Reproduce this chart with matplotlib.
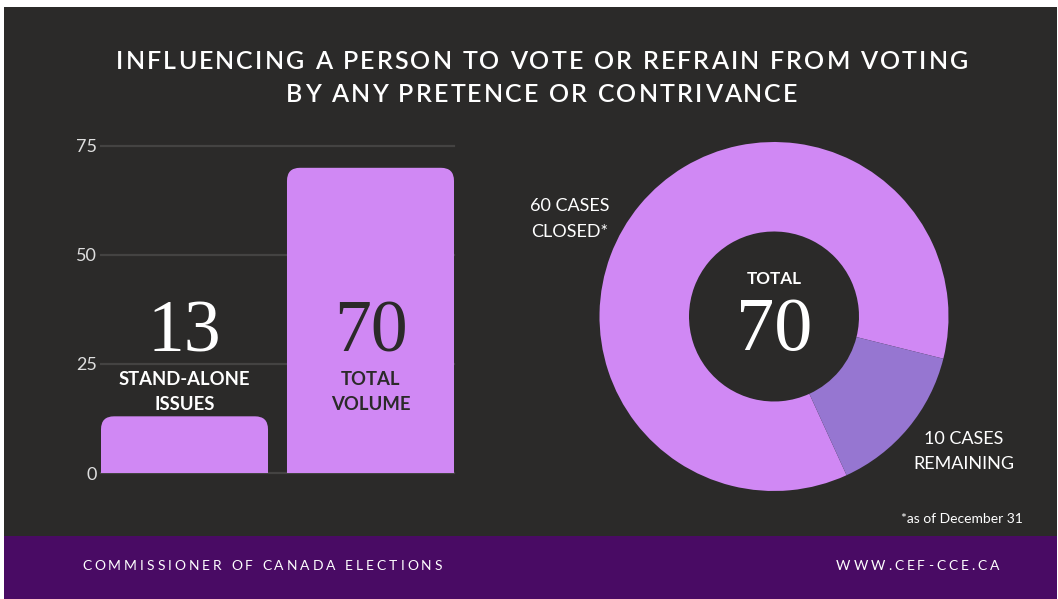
import matplotlib
matplotlib.use("Agg")
import matplotlib.pyplot as plt
from matplotlib.patches import FancyBboxPatch, Rectangle
from matplotlib.font_manager import FontProperties

# ---------------- data ----------------
title_lines = ["INFLUENCING A PERSON TO VOTE OR REFRAIN FROM VOTING",
               "BY ANY PRETENCE OR CONTRIVANCE"]
bar_categories = ["STAND-ALONE\nISSUES", "TOTAL\nVOLUME"]
bar_values = [13, 70]
y_ticks = [0, 25, 50, 75]
donut_labels = ["60 CASES\nCLOSED*", "10 CASES\nREMAINING"]
donut_values = [60, 10]
donut_total = 70
center_label = "TOTAL"
footnote = "*as of December 31"
footer_left = "COMMISSIONER OF CANADA ELECTIONS"
footer_right = "WWW.CEF-CCE.CA"

# ---------------- style ----------------
W, H, DPI = 1058, 599, 100
BG = "#2b2a29"
FOOT = "#490b64"
BAR = "#d088f4"
REMAIN = "#9676d1"
GRID = "#444342"
TICK = "#dedede"
SANS = "Lato"
SERIF = "Liberation Serif"

fig = plt.figure(figsize=(W / DPI, H / DPI), dpi=DPI, facecolor="white")


def fx(x):
    return x / W


def fy(y):
    return 1 - y / H


fig.patches.append(Rectangle((fx(4), fy(536)), fx(1053), 529 / H, transform=fig.transFigure,
                             facecolor=BG, edgecolor="none", zorder=-10))
fig.patches.append(Rectangle((fx(4), fy(599)), fx(1053), 63 / H, transform=fig.transFigure,
                             facecolor=FOOT, edgecolor="none", zorder=-10))

renderer = fig.canvas.get_renderer()


def text_width(t, prop):
    if not t:
        return 0.0
    w, _, _ = renderer.get_text_width_height_descent(t + "|", prop, ismath=False)
    w0, _, _ = renderer.get_text_width_height_descent("|", prop, ismath=False)
    return w - w0


def spaced(s, y_base, size, color, weight="normal", x_left=None, x_right=None,
           x_center=None, sp=None):
    prop = FontProperties(family=SANS, size=size, weight=weight)
    total = text_width(s, prop)
    n = len(s)
    if sp is None:
        sp = (x_right - x_left - total) / (n - 1)
    full = total + (n - 1) * sp
    if x_left is None:
        x_left = x_center - full / 2
    for i, ch in enumerate(s):
        if ch == " ":
            continue
        x = x_left + text_width(s[:i], prop) + i * sp
        fig.text(fx(x), fy(y_base), ch, fontproperties=prop, color=color,
                 ha="left", va="baseline")
    return sp


# ---------------- title ----------------
sp = spaced(title_lines[0], 69, 18, "white", weight="semibold", x_left=116, x_right=968)
spaced(title_lines[1], 102, 18, "white", weight="semibold", x_center=542, sp=sp)

# ---------------- footer ----------------
spaced(footer_left, 570, 10, "white", x_left=82, x_right=442)
spaced(footer_right, 570, 10, "white", x_left=836, x_right=999)

# ---------------- bar chart ----------------
ax_l, ax_r, ax_b, ax_t = 101, 454, 473, 146
ax = fig.add_axes([fx(ax_l), fy(ax_b), (ax_r - ax_l) / W, (ax_b - ax_t) / H])
ax.set_facecolor("none")
bw = 0.898
ax.set_xlim(-bw / 2, len(bar_values) - 1 + bw / 2)
ax.set_ylim(0, 75)
for s in ax.spines.values():
    s.set_visible(False)
ax.set_xticks([])
ax.set_yticks(y_ticks)
ax.set_yticklabels([str(t) for t in y_ticks])
ax.tick_params(axis="y", length=0, pad=3, labelcolor=TICK, labelsize=13)
for lab in ax.get_yticklabels():
    lab.set_fontfamily(SANS)
ax.yaxis.grid(True, color=GRID, linewidth=1.6)
ax.set_axisbelow(True)
for gl in ax.get_ygridlines():
    gl.set_clip_on(False)

px_per_x = (ax_r - ax_l) / (ax.get_xlim()[1] - ax.get_xlim()[0])
px_per_y = (ax_b - ax_t) / 75.0
r_px = 13
rx, ry = r_px / px_per_x, r_px / px_per_y
for i, v in enumerate(bar_values):
    p = FancyBboxPatch((i - bw / 2, -ry), bw, v + ry,
                       boxstyle=f"round,pad=0,rounding_size={rx}",
                       mutation_aspect=ry / rx, facecolor=BAR, edgecolor="none",
                       zorder=2, clip_on=True)
    ax.add_patch(p)


def ydata(px):
    return (ax_b - px) / px_per_y


text_colors = ["white", BG]
for i, (cat, v) in enumerate(zip(bar_categories, bar_values)):
    c = text_colors[i]
    ax.text(i, ydata(351), str(v), ha="center", va="baseline", color=c,
            fontsize=53, family=SERIF, zorder=3)
    for j, line in enumerate(cat.split("\n")):
        ax.text(i, ydata(385 + 24.5 * j), line, ha="center", va="baseline", color=c,
                fontsize=13.3, family=SANS, fontweight="bold", zorder=3)

# ---------------- donut ----------------
cx, cy, R = 774, 316.5, 174.5
dax = fig.add_axes([fx(cx - R), fy(cy + R), 2 * R / W, 2 * R / H])
dax.set_facecolor("none")
dax.pie(donut_values, radius=1, startangle=-14, counterclock=True,
        colors=[BAR, REMAIN], wedgeprops=dict(width=1 - 85 / R, linewidth=0))
dax.set_xlim(-1, 1)
dax.set_ylim(-1, 1)
dax.axis("off")

fig.text(fx(cx), fy(284), center_label, ha="center", va="baseline", color="white",
         fontsize=12.3, family=SANS, fontweight="bold", zorder=5)
fig.text(fx(cx), fy(350), str(donut_total), ha="center", va="baseline", color="white",
         fontsize=55, family=SERIF, zorder=5)

label_pos = [(570, 211.5), (964, 443.5)]
for lab, (lx, ly) in zip(donut_labels, label_pos):
    for j, line in enumerate(lab.split("\n")):
        fig.text(fx(lx), fy(ly + 25.5 * j), line, ha="center", va="baseline",
                 color="white", fontsize=13, family=SANS, zorder=5)

fig.text(fx(1023), fy(523), footnote, ha="right", va="baseline", color="white",
         fontsize=10, family=SANS)

fig.savefig("out.png", dpi=DPI, facecolor="white")
